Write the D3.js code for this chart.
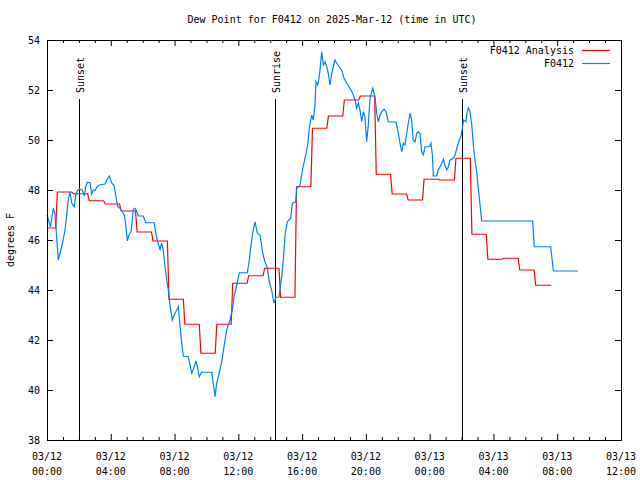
<!DOCTYPE html>
<html><head><meta charset="utf-8">
<script src="https://cdn.jsdelivr.net/npm/d3@7"></script>
<style>
body{margin:0;background:#fff;}
text{font-family:"DejaVu Sans Mono","Liberation Mono",monospace;font-size:10px;fill:#000;}
</style></head>
<body><svg id="c" width="640" height="480"></svg>
<script>
// ---- data ----
const title = "Dew Point for F0412 on 2025-Mar-12 (time in UTC)";
const yLabel = "degrees F";
const seriesNames = ["F0412 Analysis", "F0412"];
const seriesColors = ["#ff0000", "#0080ff"];
const yTicks = [38, 40, 42, 44, 46, 48, 50, 52, 54];
const xTickHours = [0, 4, 8, 12, 16, 20, 24, 28, 32, 36];
const xTickDates = ["03/12", "03/12", "03/12", "03/12", "03/12", "03/12", "03/13", "03/13", "03/13", "03/13"];
const xTickTimes = ["00:00", "04:00", "08:00", "12:00", "16:00", "20:00", "00:00", "04:00", "08:00", "12:00"];
const eventNames = ["Sunset", "Sunrise", "Sunset"];
const eventHours = [2.0, 14.3, 26.02];

// hourly analysis values (hours since 03/12 00:00 UTC)
const analysisHours = [0,1,2,3,4,5,6,7,8,9,10,11,12,13,14,15,16,17,18,19,20,21,22,23,24,25,26,27,28,29,30,31];
const analysisValues = [46.48,47.92,47.85,47.57,47.44,47.16,46.32,45.96,43.63,42.63,41.47,42.63,44.27,44.57,44.87,43.71,
  48.13,50.47,50.96,51.60,51.76,48.63,47.84,47.60,48.43,48.40,49.27,46.23,45.23,45.27,44.80,44.19];
const analysisEnd = 31.62;

// observations
const obsHours = [0.00,0.22,0.40,0.50,0.71,0.92,1.13,1.34,1.44,1.55,1.71,1.80,1.93,2.03,2.21,2.34,2.43,2.53,2.70,2.80,
  2.90,3.01,3.12,3.26,3.64,3.74,3.91,4.06,4.20,4.31,4.43,4.58,4.72,4.85,4.94,5.04,5.14,5.27,5.35,5.41,
  5.52,5.63,5.73,6.04,6.19,6.73,6.82,6.94,7.09,7.19,7.29,7.40,7.51,7.61,7.71,7.86,8.03,8.24,8.34,8.45,
  8.55,8.86,8.97,9.08,9.24,9.35,9.45,9.55,9.70,10.33,10.43,10.54,10.64,10.81,10.96,11.10,11.27,11.48,11.62,11.73,
  11.90,12.06,12.56,12.69,12.78,12.90,13.05,13.19,13.36,13.53,13.67,13.82,13.94,14.09,14.23,14.36,14.55,14.61,14.72,14.82,
  14.93,15.07,15.28,15.39,15.60,15.66,15.87,15.97,16.08,16.23,16.35,16.45,16.60,16.70,16.81,16.87,16.98,17.06,17.12,17.23,
  17.33,17.44,17.54,17.64,17.75,17.86,17.96,18.06,18.17,18.33,18.48,18.63,18.80,19.00,19.17,19.32,19.42,19.53,19.63,19.74,
  19.84,19.94,20.05,20.15,20.26,20.43,20.57,20.68,20.78,20.89,20.99,21.14,21.26,21.41,21.89,22.00,22.14,22.25,22.35,22.45,
  22.56,22.66,22.77,22.87,22.97,23.08,23.19,23.29,23.39,23.50,23.60,23.71,23.98,24.08,24.17,24.23,24.44,24.54,24.65,24.76,
  24.86,24.96,25.07,25.17,25.28,25.48,25.59,25.73,25.86,25.97,26.05,26.12,26.27,26.33,26.43,26.53,26.64,26.74,26.84,26.95,
  27.05,27.16,27.26,30.46,30.56,31.59,31.76,33.29];
const obsValues = [47.00,46.52,47.27,47.04,45.20,45.73,46.40,47.60,47.93,47.48,47.33,47.80,48.00,48.03,48.00,47.76,48.13,48.31,48.29,47.84,
  48.00,47.97,48.11,48.20,48.24,48.40,48.56,48.27,48.20,47.80,47.33,47.27,47.13,47.00,46.60,45.97,46.20,46.33,46.80,47.23,
  47.27,47.13,46.96,46.96,46.69,46.69,46.27,45.93,45.63,45.87,45.60,44.93,44.40,44.00,43.40,42.80,43.07,43.33,42.60,41.87,
  41.36,41.33,41.00,40.67,40.93,41.17,40.87,40.53,40.71,40.71,40.27,39.73,40.27,40.71,41.13,41.73,42.40,42.80,43.20,43.73,
  44.20,44.69,44.69,45.20,45.73,46.27,46.73,46.27,46.20,45.47,45.13,44.87,44.33,44.00,43.47,43.71,43.72,44.00,44.53,45.20,
  46.20,46.73,46.87,47.47,47.53,48.07,48.20,48.60,49.00,49.40,49.80,50.47,51.00,50.80,51.40,52.33,52.20,52.47,52.80,53.53,
  53.00,53.13,52.93,52.67,52.20,52.67,52.93,53.20,53.07,52.93,52.80,52.47,52.27,52.07,51.87,51.60,51.27,51.47,51.20,50.73,
  51.13,50.93,49.93,50.60,51.67,52.07,51.73,51.07,50.73,51.00,51.13,51.23,51.13,50.73,50.71,50.40,49.87,49.53,49.87,49.80,
  50.27,50.67,51.07,50.80,50.00,49.93,50.27,50.33,50.27,49.53,49.40,49.73,49.73,49.87,49.40,48.56,48.56,48.80,48.93,49.07,
  49.23,49.00,48.80,48.93,49.20,49.27,49.40,49.73,50.00,50.16,50.47,50.80,50.73,51.07,51.29,51.13,50.60,49.80,49.20,48.72,
  48.07,47.40,46.76,46.76,45.73,45.73,44.76,44.76];

// ---- layout ----
const L = 47, R = 621, T = 40, B = 440;
const svg = d3.select("#c");
const x = d3.scaleLinear().domain([0, 36]).range([L, R]);
const y = d3.scaleLinear().domain([38, 54]).range([B, T]);

// analysis step points
const anaPts = [];
analysisHours.forEach((h, i) => {
  const v = analysisValues[i];
  const s = i === 0 ? 0 : h - 0.35;
  const e = i === analysisHours.length - 1 ? analysisEnd : h + 0.55;
  anaPts.push([s, v], [e, v]);
});
const obsPts = obsHours.map((h, i) => [h, obsValues[i]]);

// title
svg.append("text").attr("x", 332).attr("y", 23).attr("text-anchor", "middle").text(title);

// axes (inward ticks)
const g = svg.append("g");
const minorHours = d3.range(0, 37);
function xTicks(sel, top) {
  sel.selectAll(null).data(minorHours).enter().append("line")
    .attr("x1", d => x(d) + 0.5).attr("x2", d => x(d) + 0.5)
    .attr("y1", top ? T : B).attr("y2", d => (top ? T : B) + (top ? 1 : -1) * (d % 4 === 0 ? 6 : 3))
    .attr("stroke", "#000");
}
xTicks(g, false); xTicks(g, true);
g.selectAll(null).data(yTicks).enter().append("line")
  .attr("x1", L).attr("x2", L + 6).attr("y1", d => y(d) + 0.5).attr("y2", d => y(d) + 0.5).attr("stroke", "#000");
g.selectAll(null).data(yTicks).enter().append("line")
  .attr("x1", R - 6).attr("x2", R).attr("y1", d => y(d) + 0.5).attr("y2", d => y(d) + 0.5).attr("stroke", "#000");

// y tick labels
g.selectAll(null).data(yTicks).enter().append("text")
  .attr("x", 40).attr("y", d => y(d) + 3.5).attr("text-anchor", "end").text(d => d);
// x tick labels
const xl = g.selectAll(null).data(xTickHours).enter().append("text")
  .attr("text-anchor", "middle");
xl.append("tspan").attr("x", d => x(d)).attr("y", 460).text((d, i) => xTickDates[i]);
xl.append("tspan").attr("x", d => x(d)).attr("y", 475).text((d, i) => xTickTimes[i]);

// y label
svg.append("text").attr("transform", "translate(14,240) rotate(-90)").attr("text-anchor", "middle").text(yLabel);

// event lines
eventHours.forEach((h, i) => {
  const ex = Math.round(x(h)) + 0.5;
  svg.append("line").attr("x1", ex).attr("x2", ex).attr("y1", 99).attr("y2", B).attr("stroke", "#000");
  svg.append("text").attr("transform", `translate(${ex + 4},93) rotate(-90)`).attr("text-anchor", "start")
    .text(eventNames[i]);
});

// series
const line = d3.line().x(d => x(d[0])).y(d => y(d[1]));
svg.append("path").datum(anaPts).attr("d", line).attr("fill", "none").attr("stroke", seriesColors[0]).attr("stroke-width", 1.2);
svg.append("path").datum(obsPts).attr("d", line).attr("fill", "none").attr("stroke", seriesColors[1]).attr("stroke-width", 1.2);

// frame
svg.append("rect").attr("x", L + 0.5).attr("y", T + 0.5).attr("width", R - L).attr("height", B - T)
  .attr("fill", "none").attr("stroke", "#000");

// legend
seriesNames.forEach((n, i) => {
  const ly = 50 + i * 13;
  svg.append("text").attr("x", 574).attr("y", ly + 3.5).attr("text-anchor", "end").text(n);
  svg.append("line").attr("x1", 582).attr("x2", 610).attr("y1", ly + 0.5).attr("y2", ly + 0.5)
    .attr("stroke", seriesColors[i]).attr("stroke-width", 1.2);
});
</script></body></html>
